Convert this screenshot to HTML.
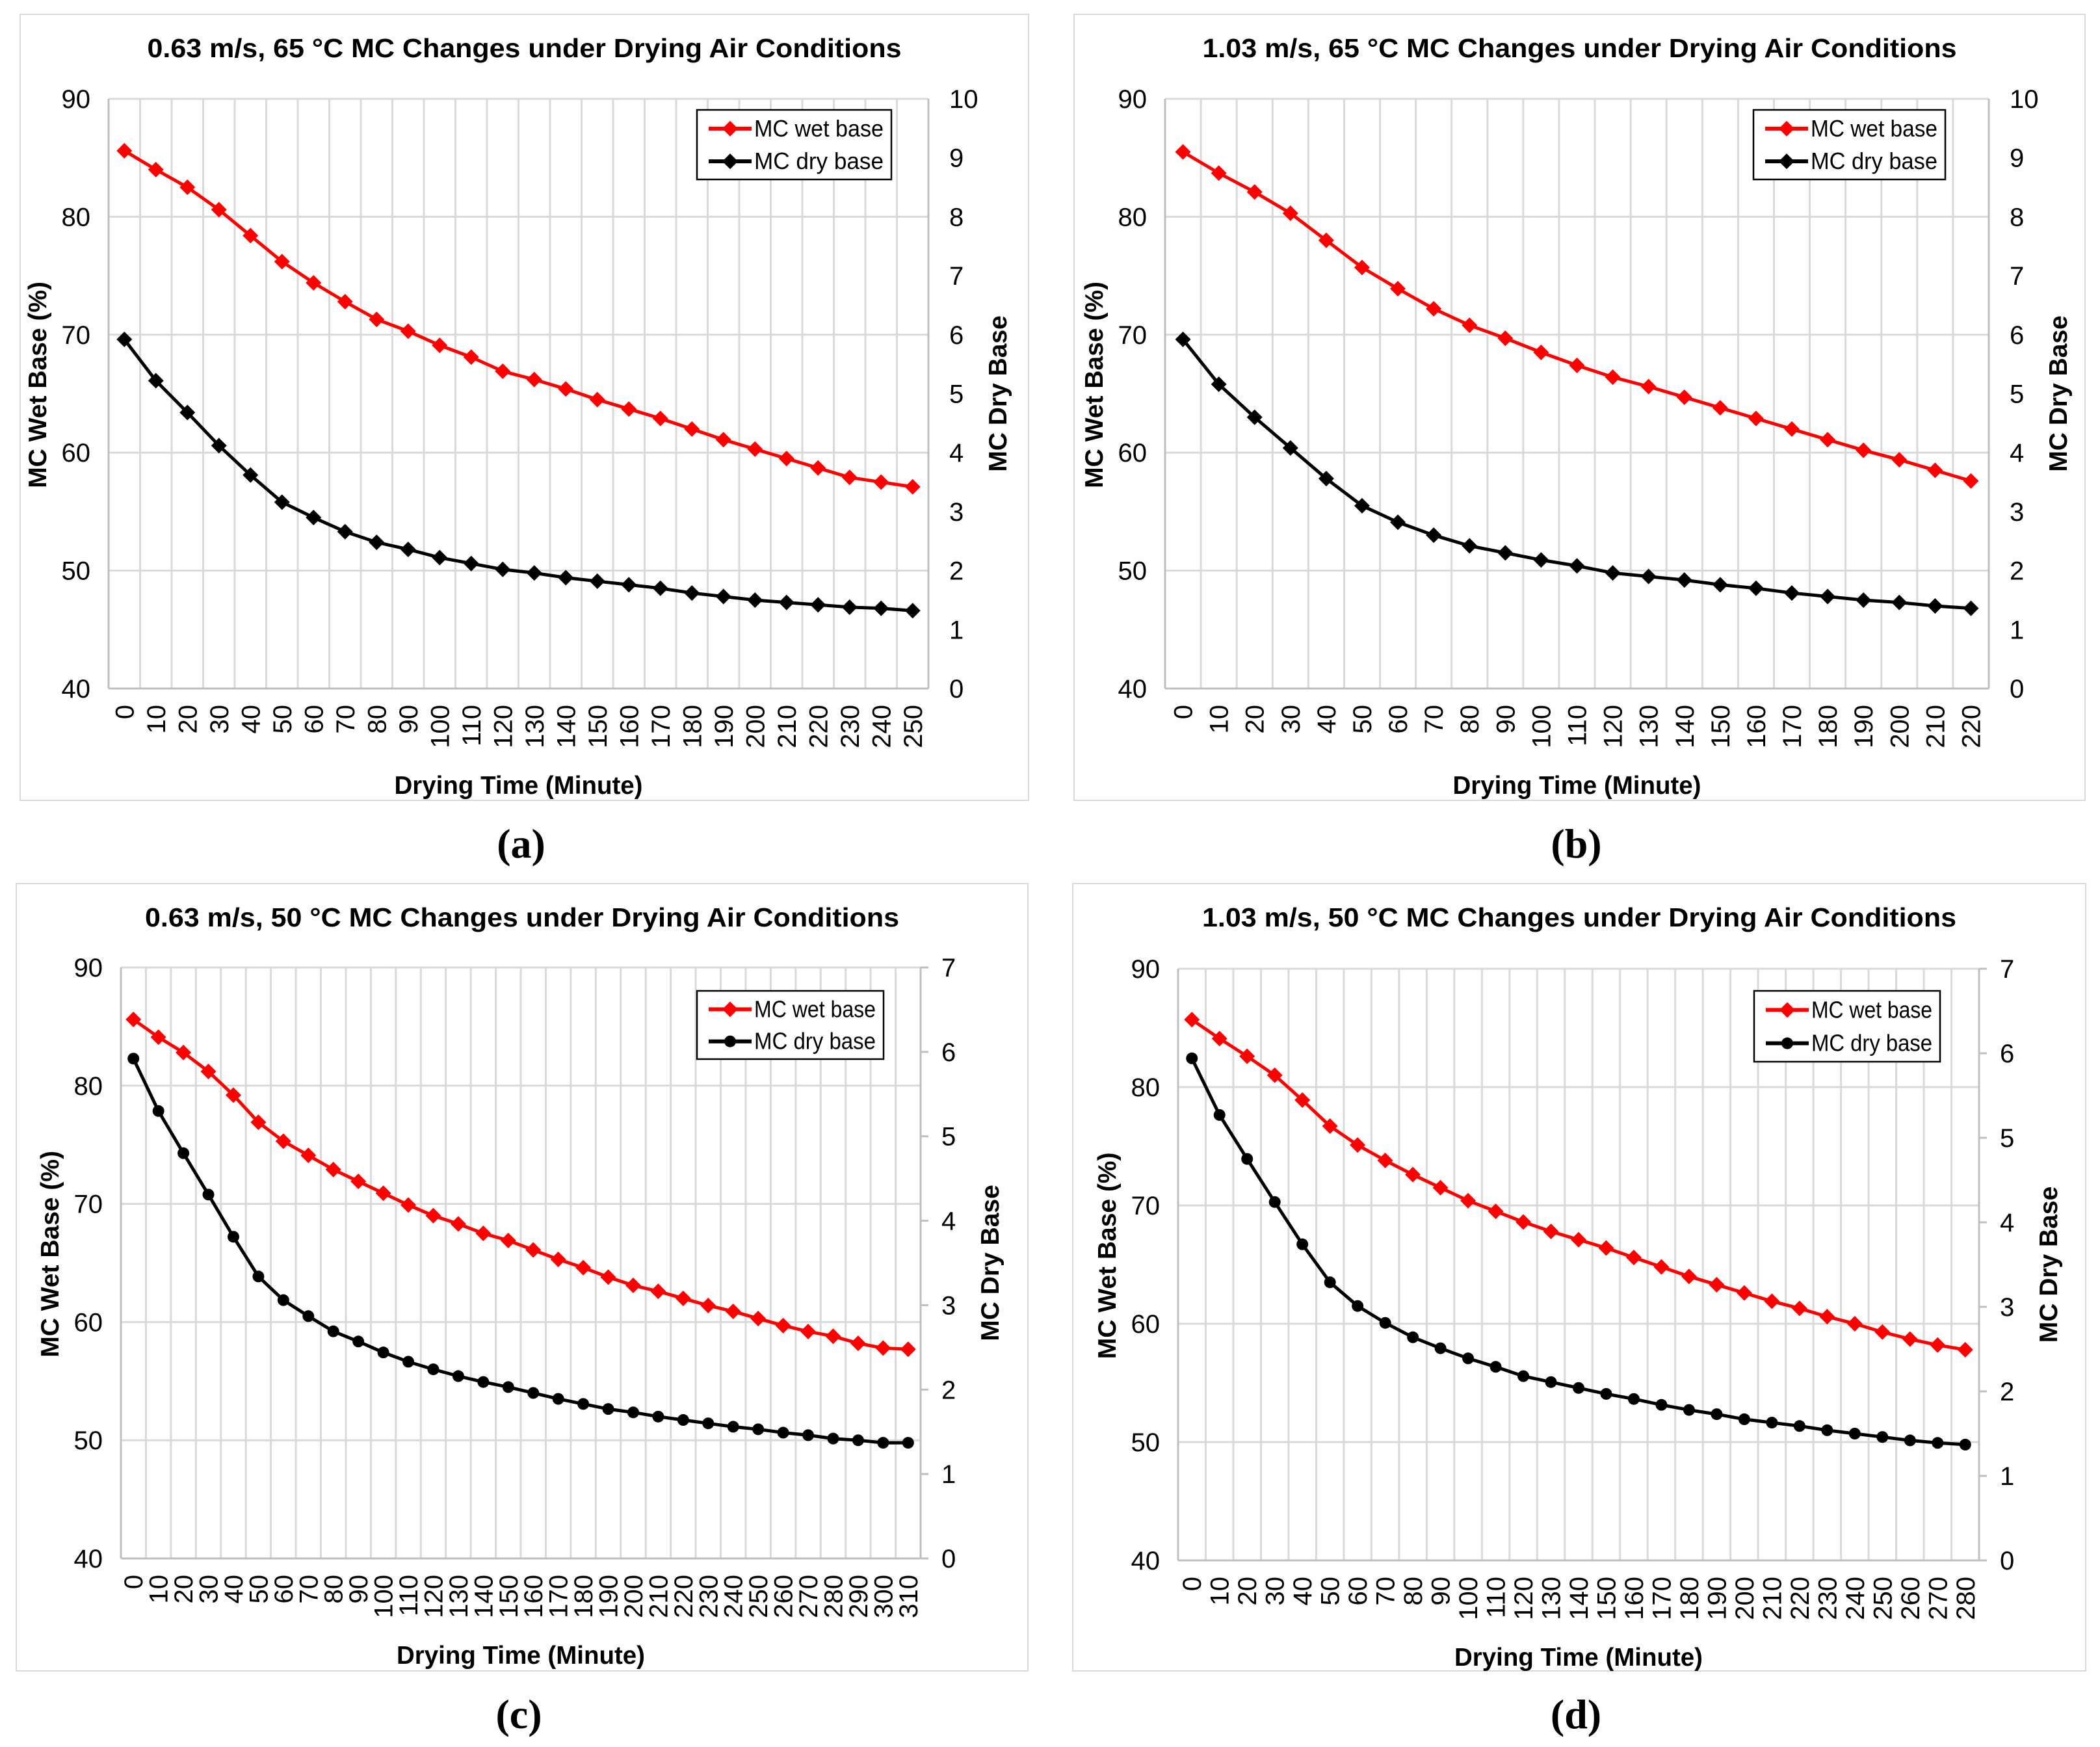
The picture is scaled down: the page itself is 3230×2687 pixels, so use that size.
<!DOCTYPE html>
<html><head><meta charset="utf-8"><style>
html,body{margin:0;padding:0;background:#fff;}
svg{display:block;}
</style></head><body>
<svg id="root" xmlns="http://www.w3.org/2000/svg" width="3230" height="2687" viewBox="0 0 3230 2687"></svg>
<script>
// ---- data ----
const catsA = [0,10,20,30,40,50,60,70,80,90,100,110,120,130,140,150,160,170,180,190,200,210,220,230,240,250];
const wetA = [85.6,84.0,82.5,80.6,78.4,76.2,74.4,72.8,71.3,70.3,69.1,68.1,66.9,66.2,65.4,64.5,63.7,62.9,62.0,61.1,60.3,59.5,58.7,57.9,57.5,57.1];
const dryA = [5.92,5.22,4.68,4.12,3.62,3.16,2.9,2.66,2.48,2.36,2.22,2.12,2.02,1.96,1.88,1.82,1.76,1.70,1.62,1.56,1.50,1.46,1.42,1.38,1.36,1.32];

const catsB = [0,10,20,30,40,50,60,70,80,90,100,110,120,130,140,150,160,170,180,190,200,210,220];
const wetB = [85.5,83.7,82.1,80.3,78.0,75.7,73.9,72.2,70.8,69.7,68.5,67.4,66.4,65.6,64.7,63.8,62.9,62.0,61.1,60.2,59.4,58.5,57.6];
const dryB = [5.92,5.16,4.6,4.08,3.56,3.1,2.82,2.6,2.42,2.3,2.18,2.08,1.96,1.9,1.84,1.76,1.7,1.62,1.56,1.5,1.46,1.4,1.36];

const catsC = [0,10,20,30,40,50,60,70,80,90,100,110,120,130,140,150,160,170,180,190,200,210,220,230,240,250,260,270,280,290,300,310];
const wetC = [85.6,84.1,82.8,81.2,79.2,76.9,75.3,74.1,72.9,71.9,70.9,69.9,69.0,68.3,67.5,66.9,66.1,65.3,64.6,63.8,63.1,62.6,62.0,61.4,60.9,60.3,59.7,59.2,58.8,58.2,57.8,57.7];
const dryC = [5.92,5.30,4.80,4.31,3.81,3.34,3.06,2.87,2.69,2.57,2.44,2.33,2.24,2.16,2.09,2.03,1.96,1.89,1.83,1.77,1.73,1.68,1.64,1.60,1.56,1.53,1.49,1.46,1.42,1.40,1.37,1.37];

const catsD = [0,10,20,30,40,50,60,70,80,90,100,110,120,130,140,150,160,170,180,190,200,210,220,230,240,250,260,270,280];
const wetD = [85.7,84.1,82.6,81.0,78.9,76.7,75.1,73.8,72.6,71.5,70.4,69.5,68.6,67.8,67.1,66.4,65.6,64.8,64.0,63.3,62.6,61.9,61.3,60.6,60.0,59.3,58.7,58.2,57.8];
const dryD = [5.94,5.27,4.75,4.24,3.74,3.29,3.01,2.81,2.64,2.51,2.39,2.29,2.18,2.11,2.04,1.97,1.91,1.84,1.78,1.73,1.67,1.63,1.59,1.54,1.50,1.46,1.42,1.39,1.37];

const leftTicks = [40,50,60,70,80,90];
const rightTicks10 = [0,1,2,3,4,5,6,7,8,9,10];
const rightTicks7 = [0,1,2,3,4,5,6,7];

const NS = "http://www.w3.org/2000/svg";
const root = document.getElementById('root');
function mk(tag, attrs, parent, text){
  const e = document.createElementNS(NS, tag);
  for (const k in attrs) e.setAttribute(k, attrs[k]);
  if (text !== undefined) e.textContent = text;
  (parent||root).appendChild(e);
  return e;
}
const SANS = '"Liberation Sans", Arial, sans-serif';

function chart(cfg){
  const g = mk('g', {}, root);
  
  
  const b = mk('rect', {x:cfg.bx, y:cfg.by, width:cfg.bw, height:cfg.bh, fill:'#fff', stroke:'#d9d9d9', 'stroke-width':2}, g);
  
  
  const L=cfg.px, R=cfg.px+cfg.pw, T=cfg.py, B=cfg.py+cfg.ph;
  const n = cfg.cats.length, band = cfg.pw/n;
  const xs = i => L + band*(i+0.5);
  const yL = v => B - (v-40)/50*cfg.ph;
  const yR = v => B - v/cfg.rmax*cfg.ph;
  for (let i=0;i<=n;i++){
    const x = L + band*i;
    const ln = mk('line', {x1:x, x2:x, y1:T, y2:B, stroke:'#d9d9d9', 'stroke-width':3}, g);
    
    
  }
  leftTicks.forEach(v=>{
    const y = yL(v);
    const ln = mk('line', {x1:L, x2:R, y1:y, y2:y, stroke:'#d9d9d9', 'stroke-width':3}, g);
    
    
    const t = mk('text', {x:L-28, y:y+14, 'text-anchor':'end', 'font-family':SANS, 'font-size':40}, g, String(v));
    
    
  });
  const ax1 = mk('line', {x1:L, x2:L, y1:T, y2:B, stroke:'#bfbfbf', 'stroke-width':3}, g);
  
  
  const ax2 = mk('line', {x1:R, x2:R, y1:T, y2:B, stroke:'#bfbfbf', 'stroke-width':3}, g);
  
  
  const ax3 = mk('line', {x1:L, x2:R, y1:B, y2:B, stroke:'#bfbfbf', 'stroke-width':3}, g);
  
  
  cfg.rticks.forEach(v=>{
    const y = yR(v);
    if (cfg.rmax===7){
      const tk = mk('line', {x1:R, x2:R+12, y1:y, y2:y, stroke:'#bfbfbf', 'stroke-width':3}, g);
      
      
    }
    const t = mk('text', {x:R+32, y:y+14, 'text-anchor':'start', 'font-family':SANS, 'font-size':40}, g, String(v));
    
    
  });
  cfg.cats.forEach((c,i)=>{
    const x = xs(i)+14, y = B+25;
    const t = mk('text', {x:x, y:y, transform:`rotate(-90 ${x} ${y})`, 'text-anchor':'end', 'font-family':SANS, 'font-size':40}, g, String(c));
    
    
  });
  function series(vals, scale, color, marker, name){
    const pts = vals.map((v,i)=>[xs(i), scale(v)]);
    const pl = mk('polyline', {points:pts.map(p=>p.join(',')).join(' '), fill:'none', stroke:color, 'stroke-width':5, 'stroke-linejoin':'round'}, g);
    
    
    pts.forEach(p=>{
      let m;
      if (marker==='diamond'){
        const s=12;
        m = mk('polygon', {points:`${p[0]},${p[1]-s} ${p[0]+s},${p[1]} ${p[0]},${p[1]+s} ${p[0]-s},${p[1]}`, fill:color}, g);
      } else {
        m = mk('circle', {cx:p[0], cy:p[1], r:9, fill:color}, g);
      }
      
      
    });
  }
  series(cfg.wet, yL, '#ff0000', 'diamond', 'mc-wet-base');
  series(cfg.dry, yR, '#000000', cfg.dryMarker, 'mc-dry-base');
  const lg = mk('g', {}, g);
  
  
  mk('rect', {x:cfg.lx, y:cfg.ly, width:cfg.lw, height:cfg.lh, fill:'#fff', stroke:'#000', 'stroke-width':2.5}, lg);
  [['MC wet base','#ff0000','diamond'],['MC dry base','#000',cfg.dryMarker]].forEach((e,k)=>{
    const ey = cfg.ly + cfg.lh*(k===0?0.27:0.74);
    const eg = mk('g', {}, lg);
    
    
    const x0 = cfg.lx+18, x1 = cfg.lx+84, xm=(x0+x1)/2;
    mk('line', {x1:x0, x2:x1, y1:ey, y2:ey, stroke:e[1], 'stroke-width':6}, eg);
    if (e[2]==='diamond') mk('polygon', {points:`${xm},${ey-12} ${xm+12},${ey} ${xm},${ey+12} ${xm-12},${ey}`, fill:e[1]}, eg);
    else mk('circle', {cx:xm, cy:ey, r:9, fill:e[1]}, eg);
    mk('text', {x:x1+4, y:ey+12, 'font-family':SANS, 'font-size':36, textLength:cfg.lw-100, lengthAdjust:'spacingAndGlyphs'}, eg, e[0]);
  });
  const tt = mk('text', {x:cfg.bx+cfg.bw/2, y:cfg.by+66, 'text-anchor':'middle', 'font-family':SANS, 'font-weight':'bold', 'font-size':41, textLength:cfg.titleW, lengthAdjust:'spacingAndGlyphs'}, g, cfg.title);
  
  
  const xt = mk('text', {x:(L+R)/2, y:B+162, 'text-anchor':'middle', 'font-family':SANS, 'font-weight':'bold', 'font-size':39, textLength:382, lengthAdjust:'spacingAndGlyphs'}, g, 'Drying Time (Minute)');
  
  
  const lx = L-96, ly = T+cfg.ph*0.485;
  const yt = mk('text', {x:lx, y:ly, transform:`rotate(-90 ${lx} ${ly})`, 'text-anchor':'middle', 'font-family':SANS, 'font-weight':'bold', 'font-size':39}, g, 'MC Wet Base (%)');
  
  
  const rx = R+120, ry = T+cfg.ph*0.5;
  const rt = mk('text', {x:rx, y:ry, transform:`rotate(-90 ${rx} ${ry})`, 'text-anchor':'middle', 'font-family':SANS, 'font-weight':'bold', 'font-size':39}, g, 'MC Dry Base');
  
  
  const pl = mk('text', {x:cfg.bx+cfg.bw/2 - 5, y:cfg.by+cfg.bh+88, 'text-anchor':'middle', 'font-family':'"Liberation Serif", serif', 'font-weight':'bold', 'font-size':64}, root, cfg.panel);
  
  
}

chart({id:'a', title:'0.63 m/s, 65 °C MC Changes under Drying Air Conditions', panel:'(a)', titleW:1160,
  bx:31, by:22, bw:1551, bh:1209, px:167, py:152, pw:1261, ph:907,
  cats:catsA, wet:wetA, dry:dryA, rmax:10, rticks:rightTicks10, dryMarker:'diamond',
  lx:1072, ly:169, lw:299, lh:107});
chart({id:'b', title:'1.03 m/s, 65 °C MC Changes under Drying Air Conditions', panel:'(b)', titleW:1160,
  bx:1652, by:22, bw:1555, bh:1209, px:1792, py:152, pw:1267, ph:907,
  cats:catsB, wet:wetB, dry:dryB, rmax:10, rticks:rightTicks10, dryMarker:'diamond',
  lx:2697, ly:169, lw:295, lh:107});
chart({id:'c', title:'0.63 m/s, 50 °C MC Changes under Drying Air Conditions', panel:'(c)', titleW:1160,
  bx:25, by:1359, bw:1556, bh:1211, px:186, py:1488, pw:1230, ph:909,
  cats:catsC, wet:wetC, dry:dryC, rmax:7, rticks:rightTicks7, dryMarker:'circle',
  lx:1072, ly:1524, lw:287, lh:105});
chart({id:'d', title:'1.03 m/s, 50 °C MC Changes under Drying Air Conditions', panel:'(d)', titleW:1160,
  bx:1650, by:1359, bw:1558, bh:1211, px:1812, py:1490, pw:1232, ph:910,
  cats:catsD, wet:wetD, dry:dryD, rmax:7, rticks:rightTicks7, dryMarker:'circle',
  lx:2698, ly:1524, lw:286, lh:109});
</script>
</body></html>
